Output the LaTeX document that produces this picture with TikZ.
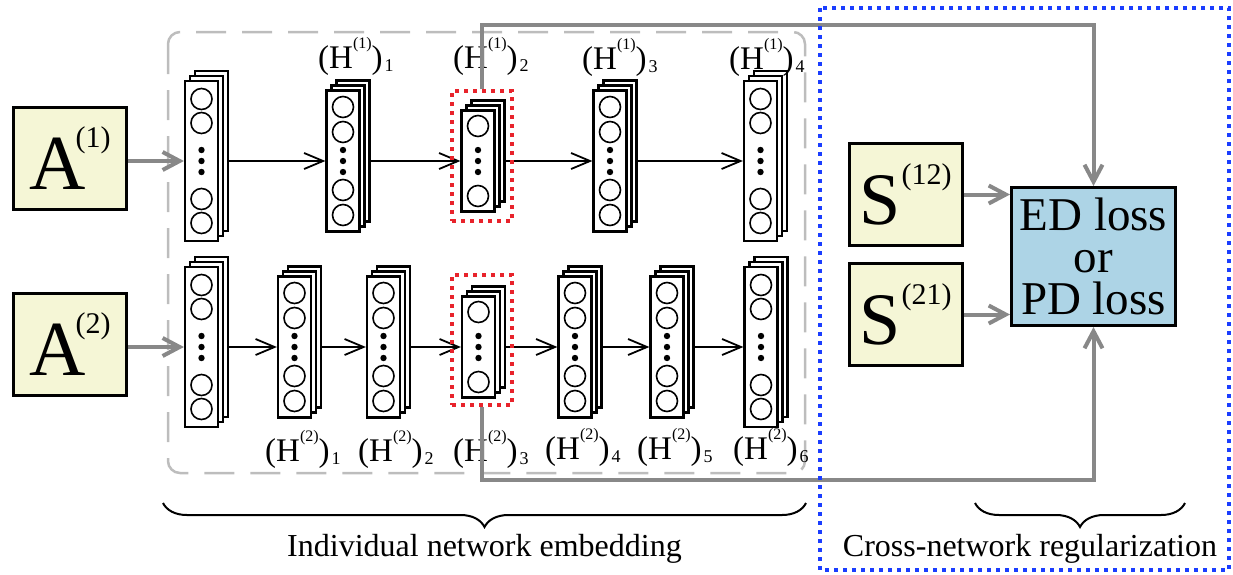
\documentclass[tikz,border=0pt]{standalone}
\usepackage{fontspec}
\setmainfont{Liberation Serif}
\usetikzlibrary{arrows.meta,decorations.pathreplacing,calc}

\definecolor{boxyellow}{HTML}{F5F6D6}
\definecolor{lossblue}{HTML}{ADD4E6}
\definecolor{linegray}{HTML}{888888}
\definecolor{framegray}{HTML}{BDBDBD}
\definecolor{selred}{HTML}{E8232B}
\definecolor{regblue}{HTML}{1A3DFF}

\pgfdeclarelayer{background}
\pgfsetlayers{background,main}

\tikzset{
  layer/.style={draw, line width=2.2pt, fill=white, minimum width=33pt, inner sep=0pt},
  unit/.style={circle, draw, line width=1.6pt, minimum size=21pt, inner sep=0pt, fill=white},
  flow/.style={line width=1.8pt, -{Straight Barb[length=19pt,width=16pt]}},
  gflow/.style={draw=linegray, line width=4pt, -{Straight Barb[length=17pt,width=18pt]}},
  gline/.style={draw=linegray, line width=4pt},
  inbox/.style={draw, line width=3pt, fill=boxyellow, inner sep=0pt,
    minimum width=113pt, minimum height=102pt},
  lossbox/.style={draw, line width=3pt, fill=lossblue, inner sep=0pt,
    minimum width=164pt, minimum height=138pt, align=center,
    font=\fontsize{47}{42}\selectfont},
  selbox/.style={draw=selred, line width=4pt, dash pattern=on 4pt off 5pt,
    inner sep=0pt, minimum width=60pt, minimum height=130pt},
  groupbox/.style={draw=framegray, line width=2.5pt, dash pattern=on 30pt off 16pt,
    rounded corners=12pt},
  regframe/.style={draw=regblue, line width=4pt, dash pattern=on 4pt off 5pt},
  hlab/.style={anchor=base west, inner sep=0pt, font=\fontsize{33}{36}\selectfont},
  caption/.style={anchor=base, inner sep=0pt, font=\fontsize{32}{36}\selectfont},
  brace/.style={decorate, decoration={brace, amplitude=24pt, mirror}, line width=2pt},
}

% A^{(k)} and S^{(kl)} box contents
\newcommand{\Amat}[1]{\fontsize{78}{78}\selectfont A\kern-10pt\raisebox{42pt}{\fontsize{30}{30}\selectfont(#1)}}
\newcommand{\Smat}[1]{\fontsize{74}{74}\selectfont S\kern1pt\raisebox{40pt}{\fontsize{30}{30}\selectfont(#1)}}
% (H^{(k)})_l label
\newcommand{\Hl}[2]{(H\raisebox{20pt}{\fontsize{16}{16}\selectfont(#1)})\kern2pt\raisebox{-3pt}{\fontsize{18}{18}\selectfont#2}}

% a stack of three layers: name, x, y, height, unit offsets
\newcommand{\nnstack}[5]{%
  \foreach \k in {2,1}{
    \node[layer, minimum height=#4] (#1b\k) at ({#2+5*\k},{#3-5*\k}) {};
  }
  \node[layer, minimum height=#4] (#1) at (#2,#3) {};
  \foreach \o [count=\n] in {#5}{
    \node[unit] (#1u\n) at (#2,{#3+\o}) {};
  }
  \foreach \o in {-11,0,11}{
    \fill (#2,{#3+\o}) circle (3.2);
  }
}

\begin{document}
\begin{tikzpicture}[x=1pt,y=-1pt]
\useasboundingbox (0,0) rectangle (1233,574);

% frame around the individual embeddings
\draw[groupbox] (168,32) rectangle (805,473);

% input matrices
\node[inbox] (a1) at (70,158.5) {\Amat{1}};
\node[inbox] (a2) at (70,344.5) {\Amat{2}};

% network 1
\nnstack{i1}{201.5}{161}{160}{-62,-38,38,62}
\nnstack{h11}{343}{161}{141}{-54,-29,29,54}
\nnstack{h12}{478}{161}{101}{-35,35}
\nnstack{h13}{610}{161}{141}{-54,-29,29,54}
\nnstack{h14}{760.5}{161}{160}{-62,-38,38,62}

% network 2
\nnstack{i2}{201.5}{347}{160}{-62,-38,38,62}
\nnstack{h21}{294.5}{347}{141}{-54,-29,29,54}
\nnstack{h22}{383.5}{347}{141}{-54,-29,29,54}
\nnstack{h23}{478.5}{347}{101}{-35,35}
\nnstack{h24}{575}{347}{141}{-54,-29,29,54}
\nnstack{h25}{667}{347}{141}{-54,-29,29,54}
\nnstack{h26}{761}{347}{160}{-62,-38,38,62}

% forward connections
\begin{pgfonlayer}{background}
  \draw[flow] (i1.east) -- (h11.west);
  \draw[flow] (h11.east) -- (h12.west);
  \draw[flow] (h12.east) -- (h13.west);
  \draw[flow] (h13.east) -- (h14.west);
  \draw[flow] (i2.east) -- (h21.west);
  \draw[flow] (h21.east) -- (h22.west);
  \draw[flow] (h22.east) -- (h23.west);
  \draw[flow] (h23.east) -- (h24.west);
  \draw[flow] (h24.east) -- (h25.west);
  \draw[flow] (h25.east) -- (h26.west);
\end{pgfonlayer}

\draw[gflow] (a1.east |- i1.west) -- (i1.west);
\draw[gflow] (a2.east |- i2.west) -- (i2.west);

% layer labels
\node[hlab] (l11) at (318,68) {\Hl{1}{1}};
\node[hlab] (l12) at (453,68) {\Hl{1}{2}};
\node[hlab] (l13) at (582,69) {\Hl{1}{3}};
\node[hlab] (l14) at (729,69) {\Hl{1}{4}};
\node[hlab] (l21) at (265,461) {\Hl{2}{1}};
\node[hlab] (l22) at (358,461) {\Hl{2}{2}};
\node[hlab] (l23) at (453,461) {\Hl{2}{3}};
\node[hlab] (l24) at (545,459) {\Hl{2}{4}};
\node[hlab] (l25) at (637,459) {\Hl{2}{5}};
\node[hlab] (l26) at (733,459) {\Hl{2}{6}};

% selected layers
\node[selbox] (r1) at (482,156) {};
\node[selbox] (r2) at (482,340) {};

% cross-network part
\node[inbox] (s12) at (905.5,194.5) {\Smat{12}};
\node[inbox] (s21) at (905.5,314.5) {\Smat{21}};
\node[lossbox] (ed) at (1093.5,256.5) {ED loss\\or\\PD loss};

\coordinate (top) at (0,25);
\coordinate (bot) at (0,480);
\draw[gline] (r1.north) -- (r1.north |- top) -| ($(ed.north)+(0,-20)$);
\draw[gflow] ($(ed.north)+(0,-22)$) -- (ed.north);
\draw[gline] (r2.south) -- (r2.south |- bot) -| ($(ed.south)+(0,20)$);
\draw[gflow] ($(ed.south)+(0,22)$) -- (ed.south);
\draw[gflow] (s12.east) -- (s12.east -| ed.west);
\draw[gflow] (s21.east) -- (s21.east -| ed.west);

% braces and captions
\draw[brace] (163,503) -- (806,503);
\draw[brace] (975,503) -- (1185,503);
\node[caption] (cap1) at (484.5,556) {Individual network embedding};
\node[caption] (cap2) at (1030,556) {Cross-network regularization};

% frame of the regularization part
\draw[regframe] (820,8) rectangle (1229,570);
\end{tikzpicture}
\end{document}
